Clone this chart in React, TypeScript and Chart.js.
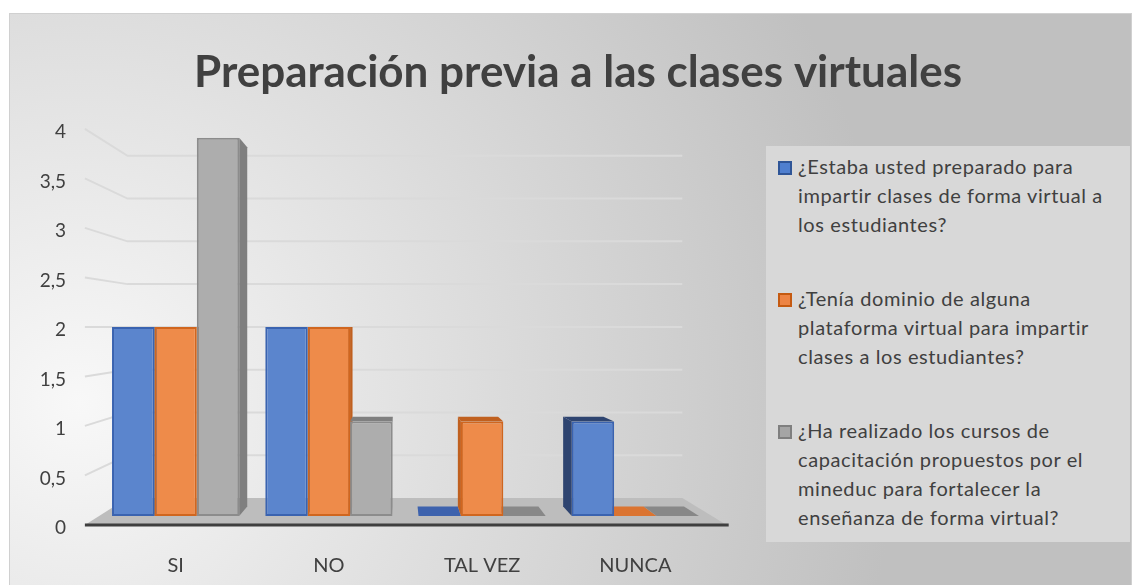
import React, { useEffect, useRef } from "react";
import { Chart, registerables } from "chart.js";

Chart.register(...registerables);

// ---------- data ----------
const TITLE = "Preparación previa a las clases virtuales";
const CATEGORIES = ["SI", "NO", "TAL VEZ", "NUNCA"];
const SERIES_LINES = [
  ["¿Estaba usted preparado para", "impartir clases de forma virtual a", "los estudiantes?"],
  ["¿Tenía dominio de alguna", "plataforma virtual para impartir", "clases a los estudiantes?"],
  ["¿Ha realizado los cursos de", "capacitación propuestos por el", "mineduc para fortalecer la", "enseñanza de forma virtual?"],
];
const SERIES_NAMES = SERIES_LINES.map((l) => l.join(" "));
const SERIES_PREPARADO = [2, 2, 0, 1];
const SERIES_PLATAFORMA = [2, 2, 1, 0];
const SERIES_CURSOS = [4, 1, 0, 0];
const Y_TICK_LABELS = ["0", "0,5", "1", "1,5", "2", "2,5", "3", "3,5", "4"];
const Y_MIN = 0;
const Y_MAX = 4;
const Y_STEP = 0.5;

// ---------- styles ----------
const FONT = "Lato, 'Open Sans', sans-serif";
const TEXT = "#404040";
const FRONT = ["#5b85cd", "#ee8b4a", "#adadad"];
const BORDER = ["#3a63b0", "#d0661f", "#8c8c8c"];
const SIDE = ["#2e4470", "#c0601f", "#7f7f7f"];
const TOP = ["#3d62ad", "#db7431", "#888888"];
const LEG_FILL = ["#4f7fcf", "#ed8444", "#a5a5a5"];
const LEG_BORDER = ["#2f5597", "#c55a11", "#7f7f7f"];

const EYE_VALUE = 2; // horizon level of the 3-D view
const K_FRONT = 1.047; // label/floor front plane
const K_BACK = 0.905; // back wall
const K_BAR = 0.95; // bar depth

function view(chart: any) {
  const ca = chart.chartArea;
  const ys = chart.scales.y;
  return { vx: ca.left + (ca.right - ca.left) * 0.49, vy: ys.getPixelForValue(EYE_VALUE) };
}
function proj(v: any, px: number, py: number, k: number): [number, number] {
  return [v.vx + (px - v.vx) * k, v.vy + (py - v.vy) * k];
}
function poly(ctx: CanvasRenderingContext2D, pts: [number, number][], fill: string) {
  ctx.beginPath();
  ctx.moveTo(pts[0][0], pts[0][1]);
  for (let i = 1; i < pts.length; i++) ctx.lineTo(pts[i][0], pts[i][1]);
  ctx.closePath();
  ctx.fillStyle = fill;
  ctx.fill();
}

const threeD = {
  id: "threeD",
  beforeDraw(chart: any) {
    const { ctx, width, height } = chart;
    ctx.save();
    const g = ctx.createRadialGradient(70, 390, 0, 70, 390, 820);
    g.addColorStop(0, "#f8f8f8");
    g.addColorStop(1, "#c0c0c0");
    ctx.fillStyle = g;
    ctx.fillRect(0, 0, width, height);
    ctx.strokeStyle = "#d0d0d0";
    ctx.lineWidth = 1;
    ctx.strokeRect(0.5, 0.5, width - 1, height + 4);
    ctx.restore();
  },
  beforeDatasetsDraw(chart: any) {
    const { ctx, chartArea: ca } = chart;
    const ys = chart.scales.y;
    const v = view(chart);
    ctx.save();
    // gridlines (front diagonal + back wall)
    ctx.strokeStyle = "#dadada";
    ctx.lineWidth = 2;
    ys.ticks.forEach((t: any) => {
      if (t.value === Y_MIN) return;
      const py = ys.getPixelForValue(t.value);
      const f = proj(v, ca.left, py, K_FRONT);
      const b = proj(v, ca.left, py, K_BACK);
      const br = proj(v, ca.right, py, K_BACK);
      ctx.beginPath();
      ctx.moveTo(f[0], f[1]);
      ctx.lineTo(b[0], b[1]);
      ctx.lineTo(br[0], br[1]);
      ctx.stroke();
    });
    // floor
    const base = ys.getPixelForValue(Y_MIN);
    const fl = proj(v, ca.left, base, K_FRONT);
    const fr = proj(v, ca.right, base, K_FRONT);
    const bl = proj(v, ca.left, base, K_BACK);
    const br = proj(v, ca.right, base, K_BACK);
    poly(ctx, [fl, fr, br, bl], "#bdbdbd");
    ctx.strokeStyle = "#3f3f3f";
    ctx.lineWidth = 3;
    ctx.beginPath();
    ctx.moveTo(fl[0], fl[1]);
    ctx.lineTo(fr[0] + 2, fr[1]);
    ctx.stroke();
    // y tick labels on the front plane
    ctx.fillStyle = TEXT;
    ctx.font = `19px ${FONT}`;
    ctx.textAlign = "right";
    ctx.textBaseline = "middle";
    ys.ticks.forEach((t: any) => {
      const py = ys.getPixelForValue(t.value);
      const f = proj(v, ca.left, py, K_FRONT);
      const lbl = Y_TICK_LABELS[Math.round((t.value - Y_MIN) / Y_STEP)];
      ctx.fillText(lbl, ca.left - 33, f[1] + 3);
    });
    // bar side / top faces
    chart.data.datasets.forEach((ds: any, di: number) => {
      const meta = chart.getDatasetMeta(di);
      meta.data.forEach((el: any) => {
        const { x, y, base: b0, width: w } = el.getProps(["x", "y", "base", "width"], true);
        const x1 = x - w / 2, x2 = x + w / 2;
        const top = Math.min(y, b0), bot = Math.max(y, b0);
        const p = (px: number, py: number) => proj(v, px, py, K_BAR);
        if (x2 < v.vx && bot - top > 0.5) {
          poly(ctx, [[x2, top], p(x2, top), p(x2, bot), [x2, bot]], SIDE[di]);
        }
        if (x1 > v.vx && bot - top > 0.5) {
          poly(ctx, [[x1, top], p(x1, top), p(x1, bot), [x1, bot]], SIDE[di]);
        }
        if (top > v.vy) {
          poly(ctx, [[x1, top], [x2, top], p(x2, top), p(x1, top)], bot - top > 0.5 ? SIDE[di] : TOP[di]);
        }
      });
    });
    ctx.restore();
  },
};

export default function App() {
  const ref = useRef<HTMLCanvasElement | null>(null);
  useEffect(() => {
    if (!ref.current) return;
    const series = [SERIES_PREPARADO, SERIES_PLATAFORMA, SERIES_CURSOS];
    const chart = new Chart(ref.current, {
      type: "bar",
      data: {
        labels: CATEGORIES,
        datasets: series.map((d, i) => ({
          label: SERIES_NAMES[i],
          data: d,
          backgroundColor: FRONT[i],
          borderColor: BORDER[i],
          borderWidth: 2,
          borderSkipped: false,
          categoryPercentage: 0.83,
          barPercentage: 1.0,
        })),
      },
      options: {
        animation: false,
        responsive: false,
        maintainAspectRatio: false,
        layout: { padding: { left: 15, right: 0, top: 0, bottom: 0 } },
        plugins: {
          legend: { display: false },
          tooltip: { enabled: false },
          title: {
            display: true,
            text: TITLE,
            color: TEXT,
            font: { family: FONT, size: 44, weight: "bold" },
            padding: { top: 33, bottom: 39 },
          },
        },
        scales: {
          x: {
            grid: { display: false },
            border: { display: false },
            ticks: { color: TEXT, font: { family: FONT, size: 20 }, padding: 30 },
            afterFit: (s: any) => { s.height = 69; },
          },
          y: {
            min: Y_MIN,
            max: Y_MAX,
            ticks: { stepSize: Y_STEP, display: false },
            grid: { display: false },
            border: { display: false },
            afterFit: (s: any) => { s.width = 75; },
          },
          yR: {
            position: "right",
            ticks: { display: false },
            grid: { display: false },
            border: { display: false },
            afterFit: (s: any) => { s.width = 420; },
          },
        },
      } as any,
      plugins: [threeD],
    });
    return () => chart.destroy();
  }, []);

  return (
    <div style={{ position: "fixed", left: 0, top: 0, width: 1132, height: 585, background: "#fff" }}>
      <canvas
        ref={ref}
        width={1123}
        height={572}
        style={{ position: "absolute", left: 9, top: 13, width: 1123, height: 572 }}
      />
      <div
        style={{
          position: "absolute",
          left: 766,
          top: 146,
          width: 364,
          height: 396,
          background: "#d8d8d8",
          fontFamily: FONT,
          fontSize: 20,
          letterSpacing: "0.6px",
          lineHeight: "29px",
          color: TEXT,
        }}
      >
        {SERIES_LINES.map((lines, i) => (
          <div key={i}>
            <div
              style={{
                position: "absolute",
                left: 12,
                top: 15 + i * 132,
                width: 10,
                height: 10,
                background: LEG_FILL[i],
                border: `2px solid ${LEG_BORDER[i]}`,
              }}
            />
            <div style={{ position: "absolute", left: 32, top: 6 + i * 132, width: 330, whiteSpace: "nowrap" }}>
              {lines.map((ln, j) => (
                <div key={j}>{ln}</div>
              ))}
            </div>
          </div>
        ))}
      </div>
    </div>
  );
}
